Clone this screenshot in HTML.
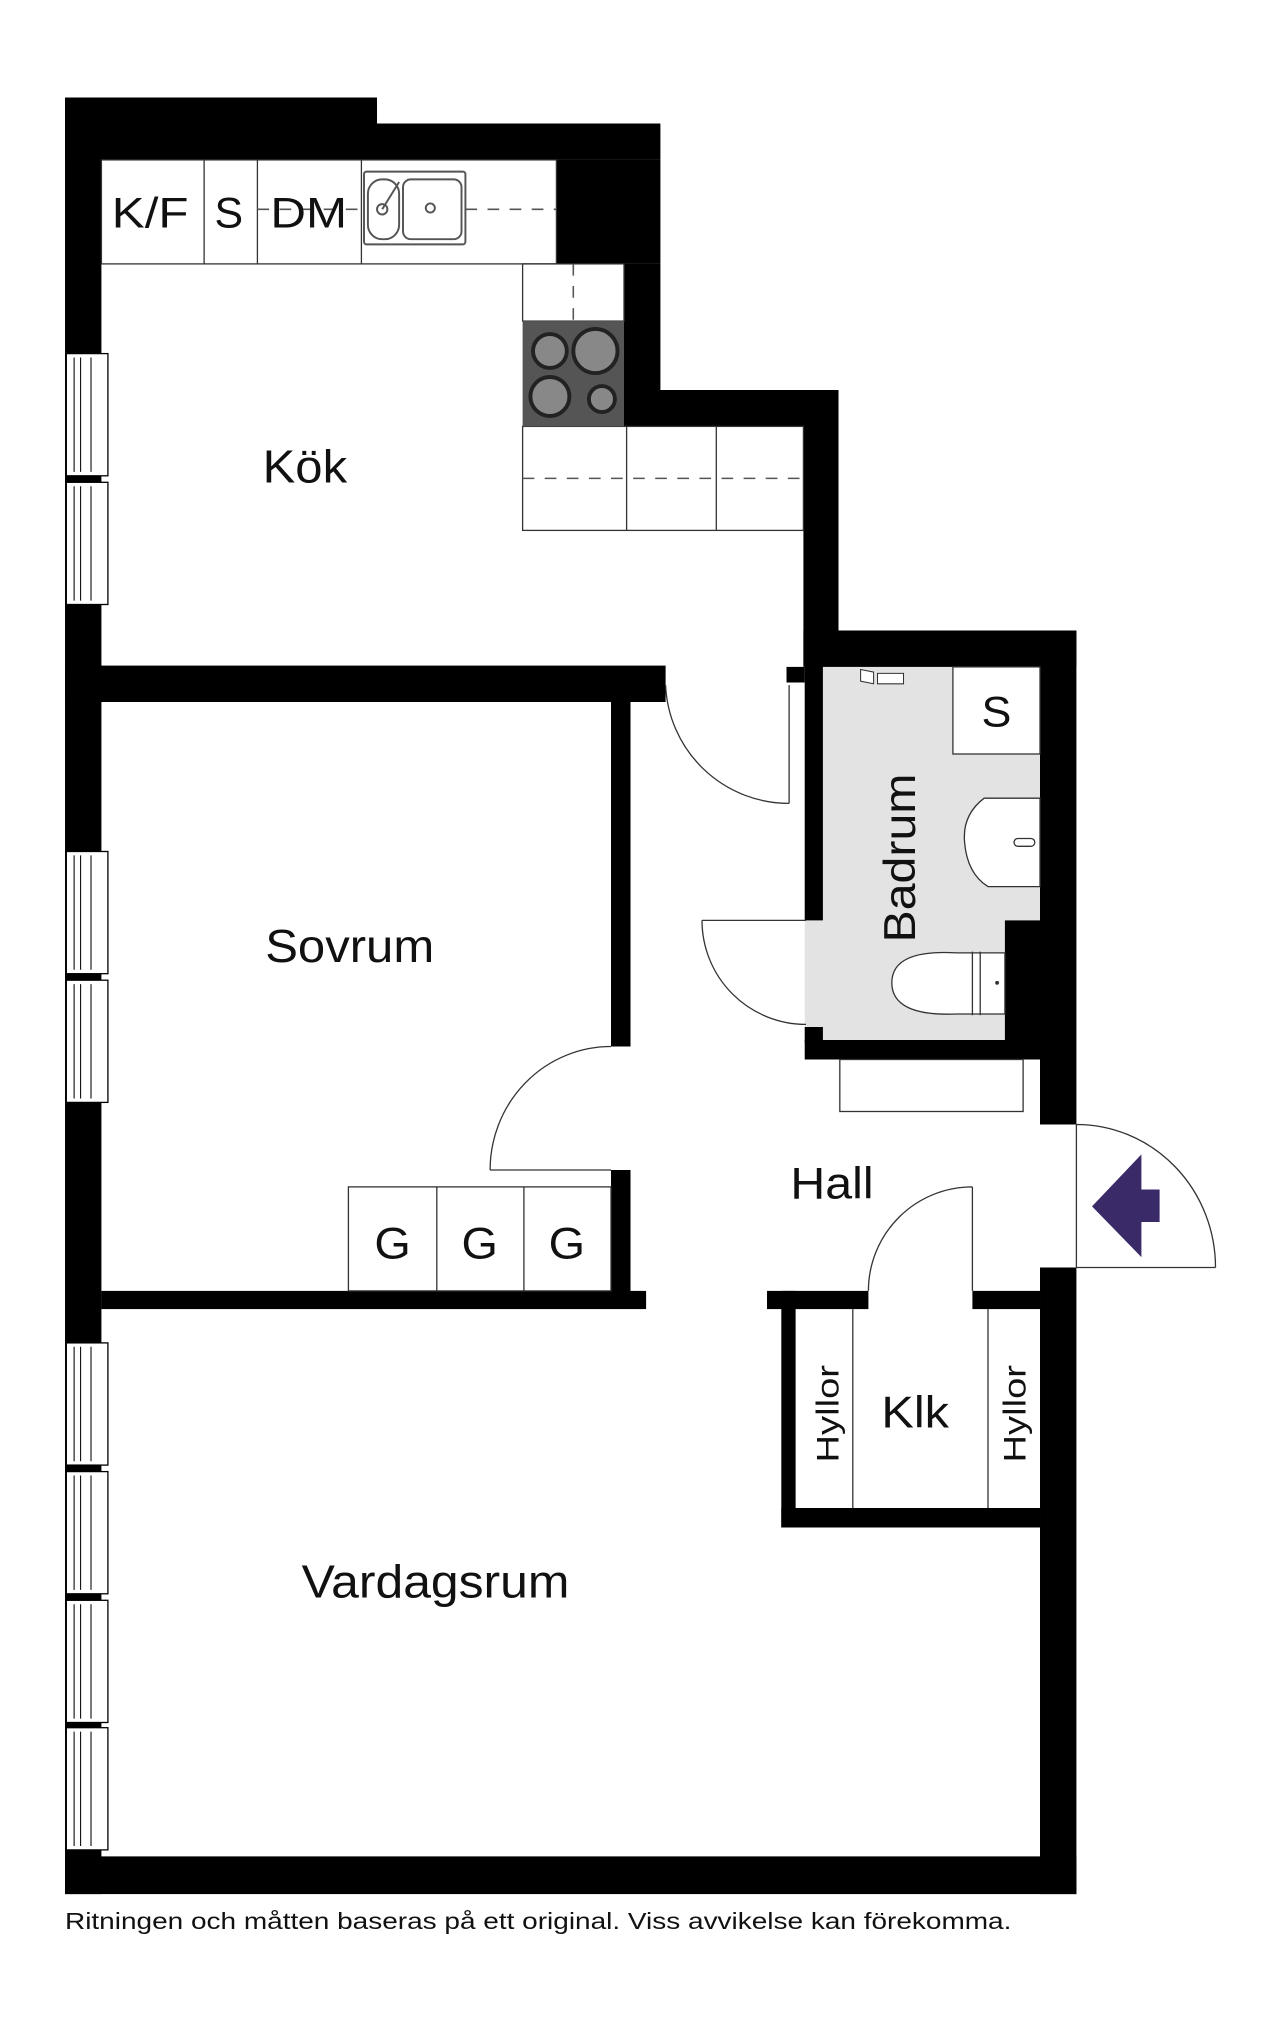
<!DOCTYPE html>
<html><head><meta charset="utf-8"><style>
html,body{margin:0;padding:0;background:#fff;width:1280px;height:2038px;overflow:hidden}
svg{display:block}
text{font-family:"Liberation Sans",Arial,sans-serif;fill:#111}
</style></head><body>
<svg width="1280" height="2038" viewBox="0 0 984.6 1567.7" xmlns="http://www.w3.org/2000/svg">
<rect width="984.6" height="1567.7" fill="#fff"/>
<rect x="633" y="512" width="167" height="196" fill="#e3e3e3"/>
<rect x="619" y="708" width="181" height="92" fill="#e3e3e3"/>
<g fill="#000">
<rect x="50" y="75" width="28" height="1382"/>
<rect x="50" y="75" width="240" height="48"/>
<rect x="290" y="95" width="218" height="28"/>
<rect x="428" y="123" width="80" height="80"/>
<rect x="480" y="203" width="28" height="125"/>
<rect x="480" y="300" width="165" height="28"/>
<rect x="618" y="300" width="27" height="212"/>
<rect x="618" y="485" width="210" height="28"/>
<rect x="800" y="485" width="28" height="380"/>
<rect x="619" y="512" width="14" height="196"/>
<rect x="605" y="513" width="14" height="12"/>
<rect x="619" y="790" width="14" height="12"/>
<rect x="619" y="800" width="181" height="15"/>
<rect x="773" y="708" width="27" height="92"/>
<rect x="50" y="512" width="462" height="28"/>
<rect x="470" y="527" width="15" height="278"/>
<rect x="470" y="900" width="15" height="105"/>
<rect x="78" y="993" width="419" height="14"/>
<rect x="590" y="993" width="78" height="14"/>
<rect x="748" y="993" width="52" height="14"/>
<rect x="601" y="993" width="11" height="182"/>
<rect x="601" y="1160" width="199" height="15"/>
<rect x="800" y="975" width="28" height="482"/>
<rect x="50" y="1428" width="778" height="29"/>
</g>
<g fill="#fff" stroke="#000" stroke-width="1">
<rect x="51" y="272" width="32" height="94"/><rect x="51" y="371" width="32" height="94"/>
<rect x="51" y="655" width="32" height="94"/><rect x="51" y="754" width="32" height="94"/>
<rect x="51" y="1033" width="32" height="94"/><rect x="51" y="1132" width="32" height="94"/>
<rect x="51" y="1231" width="32" height="94"/><rect x="51" y="1329" width="32" height="94"/>
</g>
<g stroke="#000" stroke-width="0.8">
<path d="M57 275V363M62 275V363M70 275V363M57 374V462M62 374V462M70 374V462M57 658V746M62 658V746M70 658V746M57 757V845M62 757V845M70 757V845M57 1036V1124M62 1036V1124M70 1036V1124M57 1135V1223M62 1135V1223M70 1135V1223M57 1234V1322M62 1234V1322M70 1234V1322M57 1332V1420M62 1332V1420M70 1332V1420"/>
</g>
<g fill="none" stroke="#333" stroke-width="1">
<rect x="78" y="123" width="350" height="80"/>
<path d="M157 123V203M198 123V203M278 123V203"/>
<rect x="402" y="203" width="78" height="44"/>
<rect x="402" y="328" width="216" height="80"/>
<path d="M482 328V408M551 328V408"/>
</g>
<g stroke="#555" stroke-width="1.2" stroke-dasharray="9,8" fill="none">
<path d="M358 161H428M402 368H618M441 203V247M198 161H278"/>
</g>
<g fill="none" stroke="#555" stroke-width="1.5">
<rect x="280" y="132" width="78" height="56" rx="2"/>
<rect x="283" y="138" width="24" height="46" rx="11"/>
<rect x="310" y="138" width="45" height="46" rx="6"/>
<circle cx="294" cy="161" r="4"/><circle cx="331" cy="160" r="3.5"/>
<path d="M294 161L307 140"/>
</g>
<rect x="402" y="247" width="78" height="81" fill="#555"/>
<g fill="#888" stroke="#222" stroke-width="3">
<circle cx="423" cy="270" r="13"/><circle cx="458" cy="270" r="17"/>
<circle cx="423" cy="305" r="15"/><circle cx="463" cy="307" r="10"/>
</g>
<rect x="733" y="513" width="67" height="67" fill="#fff" stroke="#333"/>
<path d="M800 614H757Q740 627 742 648Q744 672 760 682H800Z" fill="#fff" stroke="#333"/>
<rect x="780" y="645" width="16" height="6" rx="3" fill="#fff" stroke="#333"/>
<path d="M773 733H736Q686 730 686 756Q686 782 736 780H773Z" fill="#fff" stroke="#333"/>
<path d="M748 732V781M754 732V781" stroke="#333" fill="none"/>
<circle cx="767" cy="756" r="1.5" fill="#333"/>
<path d="M662 515l10 2 0 9-10-2zM675 518h20v8h-20z" fill="#fff" stroke="#333" stroke-width="0.8"/>
<rect x="646" y="815" width="141" height="40" fill="#fff" stroke="#333"/>
<g fill="none" stroke="#333">
<rect x="268" y="913" width="202" height="80"/>
<path d="M336 913V993M403 913V993"/>
<path d="M656 1007V1160M760 1007V1160"/>
</g>
<g fill="none" stroke="#333" stroke-width="1">
<path d="M607 527V618M512 527A95 95 0 0 0 607 618"/>
<path d="M540 708H620M540 708A80 80 0 0 0 620 788"/>
<path d="M377 900H470M377 900A93 95 0 0 1 470 805"/>
<path d="M748 913V993M668 993A80 80 0 0 1 748 913"/>
<path d="M828 865V975H935M828 865A107 110 0 0 1 935 975"/>
</g>
<polygon points="840,928 878,888 878,915 892,915 892,940 878,940 878,967" fill="#3a2a68"/>
<text x="86" y="175" font-size="33" textLength="59" lengthAdjust="spacingAndGlyphs">K/F</text>
<text x="165" y="175" font-size="33" textLength="22" lengthAdjust="spacingAndGlyphs">S</text>
<text x="208" y="175" font-size="33" textLength="59" lengthAdjust="spacingAndGlyphs">DM</text>
<text x="202" y="371" font-size="36" textLength="65" lengthAdjust="spacingAndGlyphs">Kök</text>
<text x="204" y="740" font-size="36" textLength="130" lengthAdjust="spacingAndGlyphs">Sovrum</text>
<text x="755" y="559" font-size="33" textLength="23" lengthAdjust="spacingAndGlyphs">S</text>
<text transform="translate(704,725) rotate(-90)" font-size="34" textLength="130" lengthAdjust="spacingAndGlyphs">Badrum</text>
<text x="608" y="922" font-size="34" textLength="64" lengthAdjust="spacingAndGlyphs">Hall</text>
<text x="288" y="968" font-size="34" textLength="28" lengthAdjust="spacingAndGlyphs">G</text>
<text x="355" y="968" font-size="34" textLength="28" lengthAdjust="spacingAndGlyphs">G</text>
<text x="422" y="968" font-size="34" textLength="28" lengthAdjust="spacingAndGlyphs">G</text>
<text x="678" y="1098" font-size="34" textLength="52" lengthAdjust="spacingAndGlyphs">Klk</text>
<text transform="translate(645,1125) rotate(-90)" font-size="24" textLength="75" lengthAdjust="spacingAndGlyphs">Hyllor</text>
<text transform="translate(789,1125) rotate(-90)" font-size="24" textLength="75" lengthAdjust="spacingAndGlyphs">Hyllor</text>
<text x="232" y="1229" font-size="36" textLength="206" lengthAdjust="spacingAndGlyphs">Vardagsrum</text>
<text x="50" y="1484" font-size="18" textLength="728" lengthAdjust="spacingAndGlyphs">Ritningen och måtten baseras på ett original. Viss avvikelse kan förekomma.</text>
</svg>
</body></html>
